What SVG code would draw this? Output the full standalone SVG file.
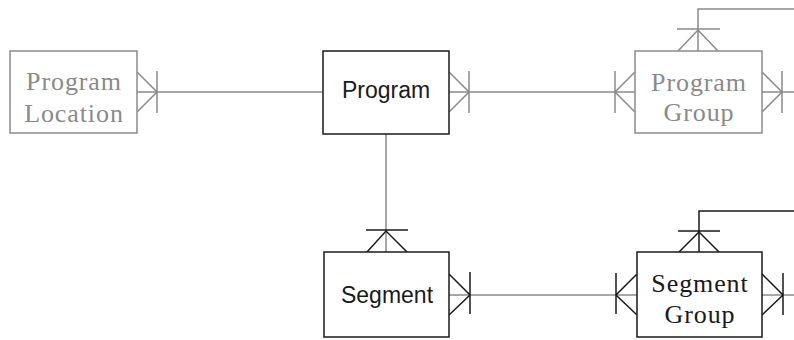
<svg xmlns="http://www.w3.org/2000/svg" width="794" height="340" viewBox="0 0 794 340">
  <style>
    .box-g { fill: #fff; stroke: #8a8a8a; stroke-width: 1.5; }
    .box-k { fill: #fff; stroke: #1a1a1a; stroke-width: 1.5; }
    .ln-g { fill: none; stroke: #8a8a8a; stroke-width: 1.5; }
    .ln-k { fill: none; stroke: #1a1a1a; stroke-width: 1.5; }
    .serif { font-family: "Liberation Serif", "Times New Roman", serif; font-size: 26px; letter-spacing: 0.9px; text-anchor: middle; }
    .sans { font-family: "Liberation Sans", Arial, sans-serif; font-size: 23px; text-anchor: middle; fill: #1a1a1a; }
    .t-g { fill: #8a8a8a; }
    .t-k { fill: #1a1a1a; }
  </style>

  <!-- relationship lines and crow's-foot ends -->
  <g id="connectors">
    <!-- Program Location - Program -->
    <path class="ln-g" d="M137 92 H323"/>
    <path class="ln-g" d="M137 72 L157 92 L137 112 M157 71 V113"/>
    <!-- Program - Program Group -->
    <path class="ln-g" d="M449 92 H635"/>
    <path class="ln-g" d="M449 72 L469 92 L449 112 M469 71 V113"/>
    <path class="ln-g" d="M635 72 L615 92 L635 112 M615 71 V113"/>
    <!-- Program Group right / top -->
    <path class="ln-g" d="M762 92 H794"/>
    <path class="ln-g" d="M762 72 L782 92 L762 112 M782 71 V113"/>
    <path class="ln-g" d="M698 51 V9 H794"/>
    <path class="ln-g" d="M678 51 L698 30 L718 51 M677 29 H720"/>
    <!-- Program - Segment -->
    <path class="ln-g" d="M386 134 V252"/>
    <path class="ln-k" d="M367 252 L386 231 L407 252 M366 230 H408"/>
    <!-- Segment - Segment Group -->
    <path class="ln-g" d="M449 295 H637"/>
    <path class="ln-k" d="M449 274 L470 295 L449 315 M470 272 V314"/>
    <path class="ln-k" d="M637 274 L616 295 L637 315 M616 273 V314"/>
    <!-- Segment Group right / top -->
    <path class="ln-g" d="M762 295 H794"/>
    <path class="ln-k" d="M762 274 L783 295 L762 315 M783 273 V315"/>
    <path class="ln-k" d="M699 252 V211 H794"/>
    <path class="ln-k" d="M679 252 L699 232 L719 252 M678 231 H720"/>
  </g>

  <g id="program-location">
    <rect class="box-g" x="10" y="51" width="127" height="82"/>
    <text class="serif t-g" x="74" y="90">Program</text>
    <text class="serif t-g" x="74" y="122">Location</text>
  </g>

  <g id="program">
    <rect class="box-k" x="323" y="51" width="126" height="83"/>
    <text class="sans" x="386" y="98">Program</text>
  </g>

  <g id="program-group">
    <rect class="box-g" x="635" y="51" width="127" height="82"/>
    <text class="serif t-g" x="699" y="91">Program</text>
    <text class="serif t-g" x="699" y="121">Group</text>
  </g>

  <g id="segment">
    <rect class="box-k" x="324" y="252" width="125" height="85"/>
    <text class="sans" x="387" y="303">Segment</text>
  </g>

  <g id="segment-group">
    <rect class="box-k" x="637" y="252" width="125" height="85"/>
    <text class="serif t-k" x="700" y="292">Segment</text>
    <text class="serif t-k" x="700" y="323">Group</text>
  </g>
</svg>
